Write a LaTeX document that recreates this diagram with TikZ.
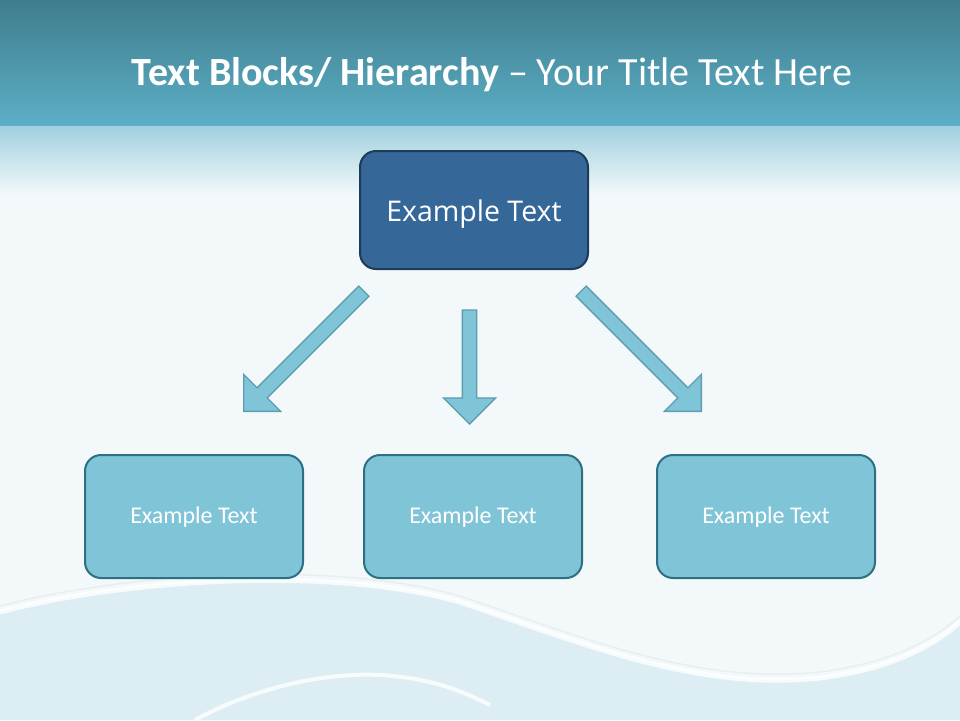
\documentclass[tikz,border=0pt]{standalone}
\usepackage{fontspec}
\setmainfont{Carlito}
\newfontfamily\boxfont{Open Sans}
\usetikzlibrary{shapes.arrows}
\definecolor{bgc}{HTML}{F3F9FB}
\definecolor{banddark}{HTML}{3F7D8D}
\definecolor{bandlight}{HTML}{5CAFC7}
\definecolor{wavec}{HTML}{DCEEF3}
\definecolor{topfill}{HTML}{356798}
\definecolor{topline}{HTML}{1D3A57}
\definecolor{lowfill}{HTML}{80C4D8}
\definecolor{lowline}{HTML}{2F6F82}
\definecolor{arrline}{HTML}{5E9DB0}
\newcommand{\basetxt}[2]{\raisebox{-#1}[0pt][0pt]{#2}}
\tikzset{
  topbox/.style={draw=topline, fill=topfill, line width=2pt, rounded corners=16pt,
    minimum width=228pt, minimum height=118pt, text=white,
    font=\boxfont\fontsize{28.5}{32}\selectfont},
  lowbox/.style={draw=lowline, fill=lowfill, line width=2pt, rounded corners=16pt,
    minimum width=218pt, minimum height=123pt, text=white,
    font=\fontsize{24}{28}\selectfont},
  blockarrow/.style={single arrow, draw=arrline, fill=lowfill, line width=1.3pt,
    inner xsep=0pt, inner ysep=6.5pt, single arrow head extend=19pt,
    single arrow tip angle=90, anchor=tip}
}
\begin{document}
\begin{tikzpicture}[x=1pt,y=-1pt]
\useasboundingbox (0,0) rectangle (960,720);
% background
\fill[bgc] (0,0) rectangle (960,720);
\shade[top color=banddark, bottom color=bandlight] (0,0) rectangle (960,126);
\shade[top color=bandlight!55!bgc, bottom color=bgc] (0,126) rectangle (960,195);
% lower waves
\fill[wavec] (0,612) .. controls (120,580) and (330,565) .. (460,602)
  .. controls (600,650) and (700,690) .. (820,678)
  .. controls (900,668) and (940,640) .. (960,622) -- (960,720) -- (0,720) -- cycle;
\draw[white, line width=5pt, opacity=0.8] (0,612) .. controls (120,580) and (330,565) .. (460,602)
  .. controls (600,650) and (700,690) .. (820,678)
  .. controls (900,668) and (940,640) .. (960,622);
\draw[white!80!gray, line width=1.5pt, opacity=0.6] (0,606) .. controls (120,574) and (330,559) .. (460,596)
  .. controls (600,644) and (700,684) .. (820,672)
  .. controls (900,662) and (940,634) .. (960,616);
\draw[white, line width=4pt, opacity=0.8] (195,720) .. controls (250,690) and (320,672) .. (380,675)
  .. controls (430,678) and (460,690) .. (490,705);
% title
\node (title) at (492,75) {\color{white}\fontsize{40}{46}\selectfont\textbf{Text Blocks/ Hierarchy} – Your Title Text Here};
% boxes
\node[topbox] (top) at (474,210) {\basetxt{11pt}{Example Text}};
\node[lowbox] (b1) at (194,516.5) {\basetxt{7pt}{Example Text}};
\node[lowbox] (b2) at (473,516.5) {\basetxt{7pt}{Example Text}};
\node[lowbox] (b3) at (766,516.5) {\basetxt{7pt}{Example Text}};
% block arrows
\node[blockarrow, minimum height=170pt, rotate=225] (aL) at (243,412) {};
\node[blockarrow, minimum height=114pt, rotate=270] (aC) at (469.5,425) {};
\node[blockarrow, minimum height=170pt, rotate=315] (aR) at (702,412) {};
\end{tikzpicture}
\end{document}
